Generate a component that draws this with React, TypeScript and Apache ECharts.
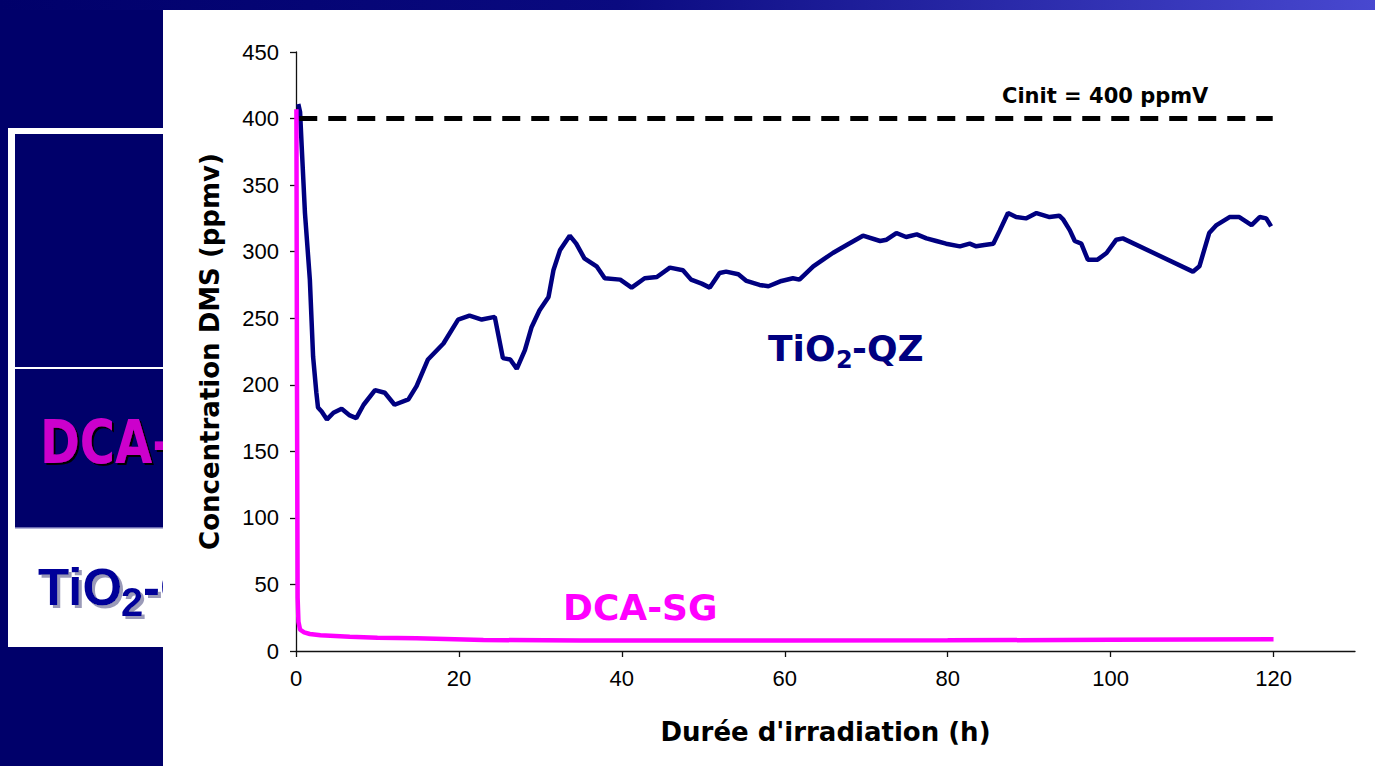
import React, { useEffect, useRef } from "react";
import * as echarts from "echarts";

// TiO2-QZ series (hours, ppmv)
const qzHours = [0.28, 0.5, 0.7, 1.1, 1.7, 2.1, 2.5, 2.7, 3.15, 3.8, 4.6, 5.6, 6.6, 7.4, 8.3, 9.7, 10.9, 12.1, 13.8, 14.8, 16.2, 18.1, 19.9, 21.3, 22.8, 24.4, 25.4, 26.3, 27.1, 28.1, 28.9, 29.9, 31.0, 31.6, 32.4, 33.6, 34.4, 35.4, 36.9, 37.9, 39.8, 41.2, 42.8, 44.3, 45.9, 47.5, 48.5, 49.8, 50.8, 52.0, 52.8, 54.3, 55.3, 56.9, 58.0, 59.6, 61.0, 61.8, 63.5, 64.7, 65.9, 67.6, 69.6, 71.7, 72.5, 73.7, 74.9, 76.2, 77.4, 78.6, 79.8, 81.5, 82.7, 83.5, 84.5, 85.6, 86.4, 87.4, 88.4, 89.6, 90.9, 92.5, 93.7, 94.2, 95.0, 95.6, 96.4, 97.2, 98.4, 99.5, 100.7, 101.5, 110.1, 110.9, 112.1, 113.0, 114.6, 115.8, 117.3, 118.3, 119.1, 119.7];
const qzValues = [411, 405, 379, 329, 279, 221, 194, 183, 180, 174, 179, 182, 177, 175, 185, 196, 194, 185, 189, 199, 219, 231, 249, 252, 249, 251, 220, 219, 212, 226, 243, 256, 266, 286, 301, 312, 306, 295, 289, 280, 279, 273, 280, 281, 288, 286, 279, 276, 273, 284, 285, 283, 278, 275, 274, 278, 280, 279, 289, 294, 299, 305, 312, 308, 309, 314, 311, 313, 310, 308, 306, 304, 306, 304, 305, 306, 316, 329, 326, 325, 329, 326, 327, 324, 316, 308, 306, 294, 294, 299, 309, 310, 285, 289, 314, 320, 326, 326, 320, 326, 325, 319];

// DCA-SG series (hours, ppmv)
const sgHours = [0.05, 0.12, 0.2, 0.3, 0.5, 1, 1.7, 3, 6.6, 10, 14.8, 23, 35, 43, 60, 80, 100, 110, 120];
const sgValues = [407, 200, 40, 22, 16, 14, 12.8, 11.8, 10.7, 10, 9.5, 8.3, 7.8, 7.8, 7.8, 8, 8.4, 8.6, 8.8];

// Initial concentration reference line
const cinitHours = [0.4, 119.9];
const cinitValue = 400;

const xTicks = [0, 20, 40, 60, 80, 100, 120];
const xMax = 130;
const yMax = 450;
const yInterval = 50;

const NAVY_BG = "#00006a";
const comic = "'Comic Sans MS', 'DejaVu Sans', sans-serif";

export default function App() {
  const ref = useRef<HTMLDivElement>(null);
  useEffect(() => {
    if (!ref.current) return;
    const chart = echarts.init(ref.current, null, { renderer: "svg" });
    const qzData = qzHours.map((h, i) => [h, qzValues[i]]);
    const sgData = sgHours.map((h, i) => [h, sgValues[i]]);
    const cinitData = cinitHours.map((h) => [h, cinitValue]);

    chart.setOption({
      animation: false,
      backgroundColor: NAVY_BG,
      grid: { left: 296, right: 20, top: 52, bottom: 115, containLabel: false },
      xAxis: {
        type: "value",
        min: 0,
        max: xMax,
        interval: 20,
        name: "Durée d'irradiation (h)",
        nameLocation: "middle",
        nameGap: 68,
        nameTextStyle: { fontFamily: comic, fontWeight: "bold", fontSize: 26, color: "#000" },
        axisLine: { show: true, lineStyle: { color: "#111", width: 1.3 } },
        axisTick: { show: true, length: 6, customValues: xTicks, lineStyle: { color: "#111", width: 1.3 } },
        axisLabel: { customValues: xTicks, margin: 16, fontSize: 22, color: "#000", fontFamily: "'Liberation Sans', Arial, sans-serif" },
        splitLine: { show: false },
      },
      yAxis: {
        type: "value",
        min: 0,
        max: yMax,
        interval: yInterval,
        name: "Concentration DMS (ppmv)",
        nameLocation: "middle",
        nameGap: 73,
        nameRotate: 90,
        nameTextStyle: { fontFamily: comic, fontWeight: "bold", fontSize: 26, color: "#000" },
        axisLine: { show: true, lineStyle: { color: "#111", width: 1.3 } },
        axisTick: { show: true, length: 6, lineStyle: { color: "#111", width: 1.3 } },
        axisLabel: { margin: 17, fontSize: 22, color: "#000", fontFamily: "'Liberation Sans', Arial, sans-serif" },
        splitLine: { show: false },
      },
      series: [
        {
          name: "TiO2-QZ",
          type: "line",
          data: qzData,
          showSymbol: false,
          lineStyle: { color: "#000080", width: 4.5 },
          z: 3,
        },
        {
          name: "DCA-SG",
          type: "line",
          data: sgData,
          showSymbol: false,
          lineStyle: { color: "#ff00ff", width: 4.5 },
          z: 4,
        },
        {
          name: "Cinit",
          type: "line",
          data: cinitData,
          showSymbol: false,
          lineStyle: { color: "#000", width: 5, type: [18, 11] },
          z: 5,
        },
      ],
      graphic: [
        {
          type: "rect",
          z: -20,
          shape: { x: 0, y: 0, width: 1375, height: 10 },
          style: {
            fill: new echarts.graphic.LinearGradient(0, 0, 1, 0, [
              { offset: 0, color: NAVY_BG },
              { offset: 0.45, color: "#0a0a80" },
              { offset: 1, color: "#4848d0" },
            ]),
          },
        },
        { type: "rect", z: -20, shape: { x: 8, y: 128, width: 160, height: 519 }, style: { fill: "#ffffff" } },
        { type: "rect", z: -19, shape: { x: 15, y: 134, width: 150, height: 233 }, style: { fill: NAVY_BG } },
        { type: "rect", z: -19, shape: { x: 15, y: 369, width: 150, height: 159 }, style: { fill: NAVY_BG } },
        { type: "rect", z: -19, shape: { x: 15, y: 527, width: 150, height: 1.5 }, style: { fill: "#6a6ab0" } },
        {
          type: "text", z: -17, x: 40, y: 413, scaleX: 0.8,
          style: {
            text: "DCA-SG", fill: "#cc00cc", font: "bold 60px 'DejaVu Sans', sans-serif", textVerticalAlign: "top",
            textShadowColor: "#000000", textShadowOffsetX: 2, textShadowOffsetY: 2, textShadowBlur: 1,
          },
        },
        {
          type: "text", z: -17, x: 38, y: 562,
          style: {
            text: "TiO", fill: "#000099", font: "bold 51px 'Liberation Sans', Arial, sans-serif", textVerticalAlign: "top",
            textShadowColor: "#9a9ab8", textShadowOffsetX: 3, textShadowOffsetY: 3, textShadowBlur: 1,
          },
        },
        {
          type: "text", z: -17, x: 121, y: 582,
          style: {
            text: "2", fill: "#000099", font: "bold 40px 'Liberation Sans', Arial, sans-serif", textVerticalAlign: "top",
            textShadowColor: "#9a9ab8", textShadowOffsetX: 3, textShadowOffsetY: 3, textShadowBlur: 1,
          },
        },
        {
          type: "text", z: -17, x: 143, y: 562,
          style: {
            text: "-QZ", fill: "#000099", font: "bold 51px 'Liberation Sans', Arial, sans-serif", textVerticalAlign: "top",
            textShadowColor: "#9a9ab8", textShadowOffsetX: 3, textShadowOffsetY: 3, textShadowBlur: 1,
          },
        },
        { type: "rect", z: -10, shape: { x: 163, y: 10, width: 1212, height: 756 }, style: { fill: "#ffffff" } },
        {
          type: "text", z: 50, x: 1002, y: 96,
          style: { text: "Cinit = 400 ppmV", fill: "#000", font: `bold 21px ${comic}`, textVerticalAlign: "middle" },
        },
        {
          type: "text", z: 50, x: 768, y: 330,
          style: { text: "TiO", fill: "#000080", font: `bold 36px ${comic}`, textVerticalAlign: "top" },
        },
        {
          type: "text", z: 50, x: 836, y: 348,
          style: { text: "2", fill: "#000080", font: `bold 24px ${comic}`, textVerticalAlign: "top" },
        },
        {
          type: "text", z: 50, x: 852, y: 330,
          style: { text: "-QZ", fill: "#000080", font: `bold 36px ${comic}`, textVerticalAlign: "top" },
        },
        {
          type: "text", z: 50, x: 563, y: 589,
          style: { text: "DCA-SG", fill: "#ff00ff", font: `bold 36px ${comic}`, textVerticalAlign: "top" },
        },
      ],
    });
    return () => chart.dispose();
  }, []);
  return (
    <div
      ref={ref}
      style={{ position: "fixed", left: 0, top: 0, width: 1375, height: 766 }}
    />
  );
}
